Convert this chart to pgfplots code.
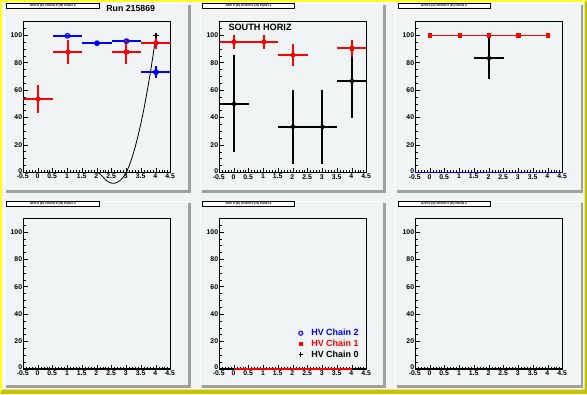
\documentclass[border=0pt]{standalone}
\usepackage{pgfplots}
\usepackage{pgfplotstable}
\pgfplotsset{compat=1.18}
\usepackage{fontspec}
\setmainfont{Liberation Sans}
\definecolor{bgc}{RGB}{241,244,245}
\definecolor{shadowc}{RGB}{160,160,160}
\definecolor{ylw}{RGB}{255,255,40}
\definecolor{olv}{RGB}{196,196,0}
\definecolor{rblue}{RGB}{0,0,255}
\definecolor{rred}{RGB}{255,0,0}

% pad 1
\pgfplotstableread{
x y ex ey
1 99.7 0.5 0.5
2 94.3 0.5 1.5
3 95.8 0.5 1.5
4 73.2 0.5 4.4
}\padAblue
\pgfplotstableread{
x y ex ey
0 53.7 0.5 10
1 88.0 0.5 8.8
3 88.0 0.5 8.8
4 94.6 0.5 4.5
}\padAred
\pgfplotstableread{
x y
4 100
}\padAblack
\pgfplotstableread{
x y
2.0 0.0
2.1 -1.0
2.2 -3.2
2.3 -5.6
2.4 -7.1
2.5 -7.9
2.6 -7.9
2.7 -7.1
2.8 -5.6
2.9 -3.2
3.0 0.0
3.1 5.3
3.2 11.6
3.3 18.9
3.4 27.4
3.5 36.8
3.6 47.3
3.7 58.9
3.8 71.5
3.9 85.2
4.0 100.0
}\padAfit
% pad 2
\pgfplotstableread{
x y ex ey
0 95.0 0.5 5.0
1 95.0 0.5 5.0
2 85.5 0.5 8.0
4 90.5 0.5 6.5
}\padBred
\pgfplotstableread{
x y ex ey
0 50.0 0.5 35.4
2 33.3 0.5 27.2
3 33.3 0.5 27.2
4 66.7 0.5 27.2
}\padBblack
% pad 3
\pgfplotstableread{
x y
0 100
1 100
2 100
3 100
4 100
}\padCred
\pgfplotstableread{
x y ex ey
2 83.3 0.5 15.4
}\padCblack
\pgfplotstableread{
x y ex
0 0 0.5
1 0 0.5
2 0 0.5
3 0 0.5
4 0 0.5
}\padCblue
% pad 5
\pgfplotstableread{
x y
0 0
1 0
2 0
3 0
4 0
}\padEred

\pgfplotsset{
  rootpad/.style={
    scale only axis, width=147.4bp, height=150.7bp,
    xmin=-0.5, xmax=4.5, ymin=0, ymax=110,
    xtick={-0.5,0,0.5,1,1.5,2,2.5,3,3.5,4,4.5},
    xticklabels={-0.5,0,0.5,1,1.5,2,2.5,3,3.5,4,4.5},
    ytick={0,20,40,60,80,100},
    yticklabels={\raisebox{3.4bp}{0},20,40,60,80,100},
    minor x tick num=4,
    minor ytick={0,5,...,110},
    tick align=inside, xtick pos=left, ytick pos=left,
    major tick length=4.5bp, minor tick length=2.3bp,
    tick style={black, line width=0.7bp},
    axis line style={line width=1.3bp},
    ticklabel style={font=\bfseries\fontsize{6.9}{7.5}\selectfont},
    xticklabel style={xshift=-0.6bp, inner sep=1.6bp},
    yticklabel style={xshift=0.6bp, inner sep=1.6bp},
  },
  errs/.style={error bars/x dir=both, error bars/x explicit, error bars/y dir=both,
     error bars/y explicit, error bars/error mark=none},
  bluepts/.style={rblue, only marks, mark=o, mark size=2.3bp, mark options={line width=1.2bp, fill=none},
     error bars/error bar style={line width=2bp, rblue}},
  redpts/.style={rred, only marks, mark=square*, mark size=1.6bp, mark options={line width=0.8bp},
     error bars/error bar style={line width=2bp, rred}},
  blackpts/.style={black, only marks, mark=none,
     error bars/error bar style={line width=2bp, black}},
}

\begin{document}
\begin{tikzpicture}[x=1bp,y=1bp]
% canvas
\fill[bgc] (0,0) rectangle (587,394);
\fill[olv] (0,0) -- (587,0) -- (587,394) -- (584.5,391.5) -- (584.5,4.5) -- (2,4.5) -- cycle;
\fill[ylw] (0,0) -- (2,4.5) -- (2,392) -- (584.5,392) -- (587,394) -- (0,394) -- cycle;
% pads
\foreach \L/\R/\T/\B in {4/190.7/391/201.5, 199.7/385.8/391/201.5, 395.3/583/391/201.5,
                          4/190.7/193.5/6.5, 199.7/385.8/193.5/6.5, 395.3/583/193.5/6.5}{
  \fill[shadowc] (\R-2.5,\B) rectangle (\R,\T-2);
  \fill[shadowc] (\L+2,\B) rectangle (\R,\B+2.5);
  \draw[white, line width=1bp] (\L+0.5,\B+2.5) -- (\L+0.5,\T-0.5) -- (\R-2.5,\T-0.5);
}
% title boxes
\foreach \L/\T/\n in {4/391/0, 199.7/391/1, 395.3/391/2, 4/193.5/3, 199.7/193.5/4, 395.3/193.5/5}{
  \fill[black] (\L+3.3,\T-6.1) rectangle (\L+95.6,\T-1.1);
  \filldraw[fill=white, draw=black, line width=0.6bp] (\L+2.7,\T-5.5) rectangle (\L+95,\T-0.3);
  \node[font=\bfseries\fontsize{3.3}{3.5}\selectfont, inner sep=0pt] at (\L+48.8,\T-2.9) {Arm 0 (E) Orient 0 (H) Panel \n};
}
\node[font=\bfseries\fontsize{8.8}{10}\selectfont, inner sep=0pt] at (130.7,385.3) {Run 215869};

% pad 1
\begin{axis}[rootpad, at={(23.3bp,221.6bp)}, anchor=south west, clip=false]
\addplot[bluepts, errs] table[x=x, y=y, x error=ex, y error=ey] {\padAblue};
\addplot[black, line width=0.8bp] table[x=x, y=y] {\padAfit};
\addplot[black, only marks, mark=+, mark size=2.6bp, mark options={line width=1.1bp}] table[x=x, y=y] {\padAblack};
\addplot[redpts, errs] table[x=x, y=y, x error=ex, y error=ey] {\padAred};
\end{axis}

% pad 2
\begin{axis}[rootpad, at={(219.3bp,221.6bp)}, anchor=south west]
\addplot[blackpts, errs] table[x=x, y=y, x error=ex, y error=ey] {\padBblack};
\addplot[redpts, errs] table[x=x, y=y, x error=ex, y error=ey] {\padBred};
\end{axis}
\node[font=\bfseries\fontsize{9.2}{10}\selectfont, inner sep=0pt, anchor=west] at (228.3,366.5) {SOUTH HORIZ};

% pad 3
\begin{axis}[rootpad, at={(415.3bp,221.6bp)}, anchor=south west, clip=false]
\addplot[rblue, draw=none, no markers, error bars/x dir=both, error bars/x explicit,
   error bars/error mark=none, error bars/error bar style={line width=1.4bp, rblue}]
   table[x=x, y=y, x error=ex] {\padCblue};
\addplot[blackpts, errs] table[x=x, y=y, x error=ex, y error=ey] {\padCblack};
\addplot[rred, line width=1.4bp, mark=square*, mark size=1.6bp, mark options={line width=0.8bp}] table[x=x, y=y] {\padCred};
\end{axis}

% pad 4
\begin{axis}[rootpad, at={(23.3bp,25bp)}, anchor=south west]
\addplot[draw=none] coordinates {(0,-10)};
\end{axis}

% pad 5
\begin{axis}[rootpad, at={(219.3bp,25bp)}, anchor=south west, clip=false,
  legend style={at={(axis cs:4.3,6.0)}, anchor=south east, draw=none, fill=none,
     font=\bfseries\fontsize{9}{9.5}\selectfont, row sep=-1.3bp, inner sep=0pt,
     cells={anchor=west}},
  legend image code/.code={\draw[#1] plot coordinates {(1.5bp,0bp)}; \path[draw=none] (0bp,0bp) (10bp,0bp);}]
\addplot[rred, line width=1.4bp, forget plot] table[x=x, y=y] {\padEred};
\addlegendimage{only marks, rblue, mark=o, mark size=2bp, mark options={line width=1.1bp}}
\addlegendentry{\textcolor{rblue}{HV Chain 2}}
\addlegendimage{only marks, rred, mark=square*, mark size=1.5bp}
\addlegendentry{\textcolor{rred}{HV Chain 1}}
\addlegendimage{only marks, black, mark=+, mark size=2.2bp, mark options={line width=0.9bp}}
\addlegendentry{HV Chain 0}
\end{axis}

% pad 6
\begin{axis}[rootpad, at={(415.3bp,25bp)}, anchor=south west]
\addplot[draw=none] coordinates {(0,-10)};
\end{axis}

\pgfresetboundingbox
\path[use as bounding box] (0,0) rectangle (587,394);
\end{tikzpicture}
\end{document}
